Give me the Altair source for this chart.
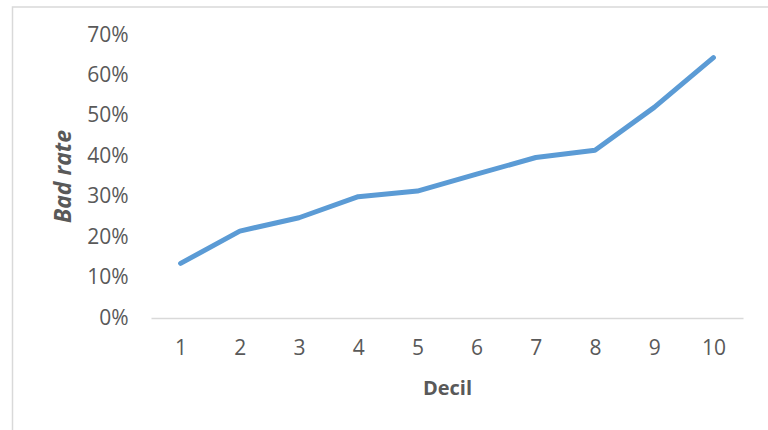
import altair as alt
import pandas as pd

# Bad rate by score decile
deciles = [1, 2, 3, 4, 5, 6, 7, 8, 9, 10]
bad_rate = [0.135, 0.215, 0.248, 0.300, 0.314, 0.356, 0.397, 0.415, 0.521, 0.644]
y_ticks = [0, 0.1, 0.2, 0.3, 0.4, 0.5, 0.6, 0.7]

df = pd.DataFrame({"Decil": deciles, "Bad rate": bad_rate})

FONT = "Open Sans"
TEXT = "#595959"
GRID = "#D9D9D9"

line = alt.Chart(df).mark_line(
    color="#5B9BD5", strokeWidth=5, strokeCap="round", strokeJoin="round"
).encode(
    x=alt.X(
        "Decil:O",
        scale=alt.Scale(paddingInner=1, paddingOuter=0.5),
        axis=alt.Axis(
            title="Decil",
            labelAngle=0,
            labelFont=FONT,
            labelFontSize=21,
            labelColor=TEXT,
            labelPadding=19,
            ticks=False,
            domainColor=GRID,
            domainWidth=1.5,
            titleFont=FONT,
            titleFontSize=20,
            titleFontWeight="bold",
            titleColor=TEXT,
            titleX=296,
            titleY=70,
            titleAlign="center",
            titleBaseline="middle",
        ),
    ),
    y=alt.Y(
        "Bad rate:Q",
        scale=alt.Scale(domain=[0, 0.7], nice=False),
        axis=alt.Axis(
            title="Bad rate",
            values=y_ticks,
            format=".0%",
            grid=False,
            domain=False,
            ticks=False,
            labelFont=FONT,
            labelFontSize=21,
            labelColor=TEXT,
            labelPadding=23,
            titleFont=FONT,
            titleFontSize=23,
            titleFontWeight="bold",
            titleFontStyle="italic",
            titleColor=TEXT,
            titleAngle=270,
            titleX=-88,
            titleY=141,
            titleAlign="center",
            titleBaseline="middle",
        ),
    ),
)

# Light outer frame around the chart area
frame = alt.Chart(alt.Data(values=[{}])).mark_rect(
    fill=None, stroke=GRID, strokeWidth=1.5
).encode(
    x=alt.value(-138.5),
    x2=alt.value(640),
    y=alt.value(-28),
    y2=alt.value(420),
)

chart = alt.layer(frame, line).properties(
    width=592,
    height=283,
    autosize=alt.AutoSizeParams(type="none"),
    padding={"left": 151, "top": 35, "right": 25, "bottom": 112},
    background="white",
).configure_view(stroke=None)

chart.save("out.html", embed_options={"renderer": "svg", "actions": False})
